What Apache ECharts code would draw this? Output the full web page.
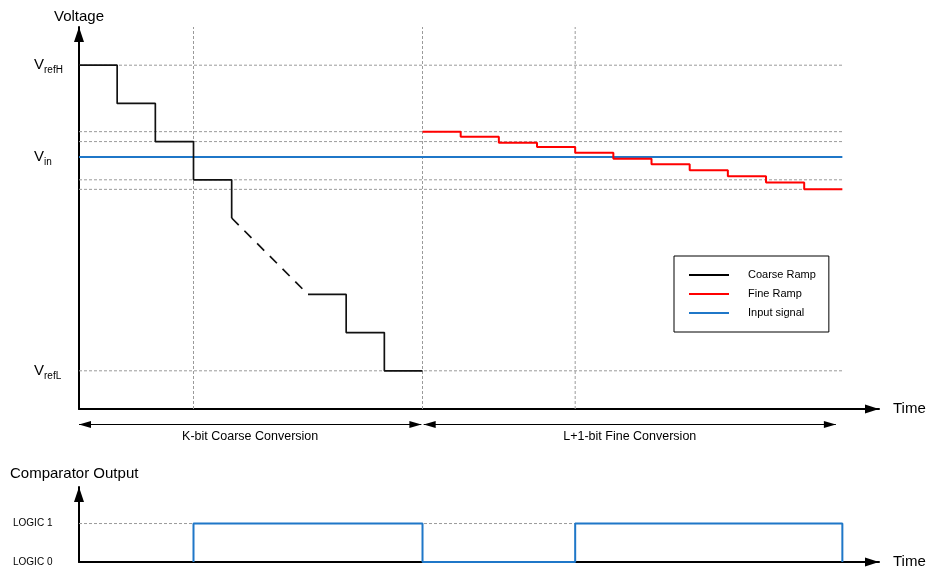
<!DOCTYPE html>
<html><head><meta charset="utf-8">
<script src="https://cdn.jsdelivr.net/npm/echarts@6/dist/echarts.min.js"></script>
<style>html,body{margin:0;padding:0;background:#fff}#c{width:929px;height:572px}</style>
</head><body><div id="c"></div>
<script>
// time in ramp-step units; voltage in coarse-LSB units (VrefL = 0, VrefH = 8)
const coarseSteps1 = [[0, 8], [1, 7], [2, 6], [3, 5], [4, 4]];
const coarseDashed = [[4, 4], [6, 2]];
const coarseSteps2 = [[6, 2], [7, 1], [8, 0], [9, 0]];
const fineTimes = [9, 10, 11, 12, 13, 14, 15, 16, 17, 18, 19, 20];
const fineLevels = [6.26, 6.13, 5.97, 5.86, 5.71, 5.55, 5.41, 5.25, 5.09, 4.93, 4.75, 4.75];
const vin = 5.60;
const inputSpan = [0, 20];
const hGrid = [8, 6.26, 6, 5, 4.75, 0];
const vGrid = [3, 9, 13];
const voltTicks = [0, 5.60, 8];
const voltTickLabels = ['{v|V}{s|refL}', '{v|V}{s|in}', '{v|V}{s|refH}'];
const compTimes = [3, 3, 9, 13, 20];
const compLevels = [0, 1, 0, 1, 0];
const logicTicks = [0, 1];
const logicLabels = ['LOGIC 0', 'LOGIC 1'];
const spanLabels = ['K-bit Coarse Conversion', 'L+1-bit Fine Conversion'];
const coarseSpan = [0, 8.97];
const fineSpan = [9.03, 19.83];
const legendNames = ['Coarse Ramp', 'Fine Ramp', 'Input signal'];

const FONT = "'Liberation Sans', Arial, sans-serif";
const BLUE = '#1f77c8';
const GRIDC = '#9a9a9a';
const chart = echarts.init(document.getElementById('c'), null, {renderer: 'canvas'});

function axisLineArrow(w, h) {
  return {show: true, onZero: false, symbol: ['none', 'triangle'], symbolSize: [w, h], symbolOffset: [0, -h / 2],
    lineStyle: {color: '#000', width: 2}};
}
function gridLine(data, xi) {
  return {type: 'line', xAxisIndex: xi, yAxisIndex: xi, data: data, symbol: 'none', silent: true, z: 1,
    lineStyle: {color: GRIDC, width: 1, type: [3, 2]}, animation: false};
}
const series = [];
hGrid.forEach(v => series.push(gridLine([[0, v], [20, v]], 0)));
vGrid.forEach(t => series.push(gridLine([[t, -1], [t, 9]], 0)));
series.push(gridLine([[0, 1], [20, 1]], 2));

series.push({type: 'line', name: 'Input signal', xAxisIndex: 0, yAxisIndex: 0, color: BLUE,
  data: inputSpan.map(t => [t, vin]), symbol: 'none', z: 3, lineStyle: {color: BLUE, width: 2}, animation: false});
[coarseSteps1, coarseDashed, coarseSteps2].forEach((d, i) => {
  series.push({type: 'line', name: 'Coarse Ramp', xAxisIndex: 0, yAxisIndex: 0, color: '#000',
    data: d, step: i === 1 ? false : 'end', symbol: 'none', z: 4,
    lineStyle: {color: '#111', width: 1.7, type: i === 1 ? [10, 8] : 'solid'}, animation: false});
});
series.push({type: 'line', name: 'Fine Ramp', xAxisIndex: 0, yAxisIndex: 0, color: '#ff0000',
  data: fineTimes.map((t, i) => [t, fineLevels[i]]), step: 'end', symbol: 'none', z: 4,
  lineStyle: {color: '#ff0000', width: 2}, animation: false});
series.push({type: 'line', name: 'Comparator', xAxisIndex: 2, yAxisIndex: 2, color: BLUE,
  data: compTimes.map((t, i) => [t, compLevels[i]]), step: 'end', symbol: 'none', z: 4,
  lineStyle: {color: BLUE, width: 2}, animation: false});
series.push({type: 'line', name: 'spans', xAxisIndex: 1, yAxisIndex: 1, data: [], animation: false,
  markLine: {silent: true, animation: false, symbol: ['triangle', 'triangle'], symbolSize: [7, 12],
    symbolOffset: [[0, 6], [0, 6]],
    lineStyle: {color: '#000', width: 1, type: 'solid'},
    label: {show: true, position: 'insideMiddleBottom', distance: 6, color: '#000', fontSize: 12.5,
      fontFamily: FONT, formatter: p => p.name},
    data: [
      [{coord: [coarseSpan[0], 1], name: spanLabels[0]}, {coord: [coarseSpan[1], 1]}],
      [{coord: [fineSpan[0], 1], name: spanLabels[1]}, {coord: [fineSpan[1], 1]}]
    ]}});

const option = {
  backgroundColor: '#fff',
  animation: false,
  textStyle: {fontFamily: FONT},
  title: {text: 'Comparator Output', left: 10, top: 466, padding: 0,
    textStyle: {fontSize: 15, fontWeight: 'normal', color: '#000', fontFamily: FONT}},
  legend: {data: legendNames, orient: 'vertical', left: 674, top: 256, padding: [13, 13, 13, 15],
    itemWidth: 40, itemHeight: 2, itemGap: 7, icon: 'rect', borderColor: '#000', borderWidth: 1,
    backgroundColor: '#fff', selectedMode: false,
    textStyle: {fontSize: 11, color: '#000', lineHeight: 12, padding: [0, 0, 0, 14], fontFamily: FONT}},
  grid: [
    {left: 79, width: 800, top: 27, height: 382, outerBoundsMode: 'none'},
    {left: 79, width: 800, top: 414, height: 21, outerBoundsMode: 'none'},
    {left: 79, width: 800, top: 487, height: 75, outerBoundsMode: 'none'}
  ],
  xAxis: [
    {gridIndex: 0, type: 'value', min: 0, max: 20.96, axisLine: axisLineArrow(9, 14), axisTick: {show: false},
      axisLabel: {show: false}, splitLine: {show: false}, name: 'Time', nameLocation: 'end', nameGap: 14,
      nameTextStyle: {fontSize: 15, color: '#000', fontFamily: FONT}},
    {gridIndex: 1, type: 'value', min: 0, max: 20.96, show: false},
    {gridIndex: 2, type: 'value', min: 0, max: 20.96, axisLine: axisLineArrow(9, 14), axisTick: {show: false},
      axisLabel: {show: false}, splitLine: {show: false}, name: 'Time', nameLocation: 'end', nameGap: 14,
      nameTextStyle: {fontSize: 15, color: '#000', fontFamily: FONT}}
  ],
  yAxis: [
    {gridIndex: 0, type: 'value', min: -1, max: 9, axisLine: axisLineArrow(10, 15), axisTick: {show: false},
      splitLine: {show: false}, name: 'Voltage', nameLocation: 'end', nameGap: 3,
      nameTextStyle: {fontSize: 15, color: '#000', fontFamily: FONT},
      axisLabel: {show: true, customValues: voltTicks, align: 'left', margin: 45,
        formatter: v => voltTickLabels[voltTicks.indexOf(v)] || '',
        rich: {v: {fontSize: 15, lineHeight: 20, color: '#000', verticalAlign: 'middle', fontFamily: FONT},
               s: {fontSize: 10, lineHeight: 10, color: '#000', verticalAlign: 'bottom', fontFamily: FONT}}}},
    {gridIndex: 1, type: 'value', min: 0, max: 2, show: false},
    {gridIndex: 2, type: 'value', min: 0, max: 1.95, axisLine: axisLineArrow(10, 15), axisTick: {show: false},
      splitLine: {show: false},
      axisLabel: {show: true, customValues: logicTicks, align: 'left', margin: 66, fontSize: 10, color: '#000',
        formatter: v => logicLabels[logicTicks.indexOf(v)] || ''}}
  ],
  series: series
};
chart.setOption(option);
</script></body></html>
